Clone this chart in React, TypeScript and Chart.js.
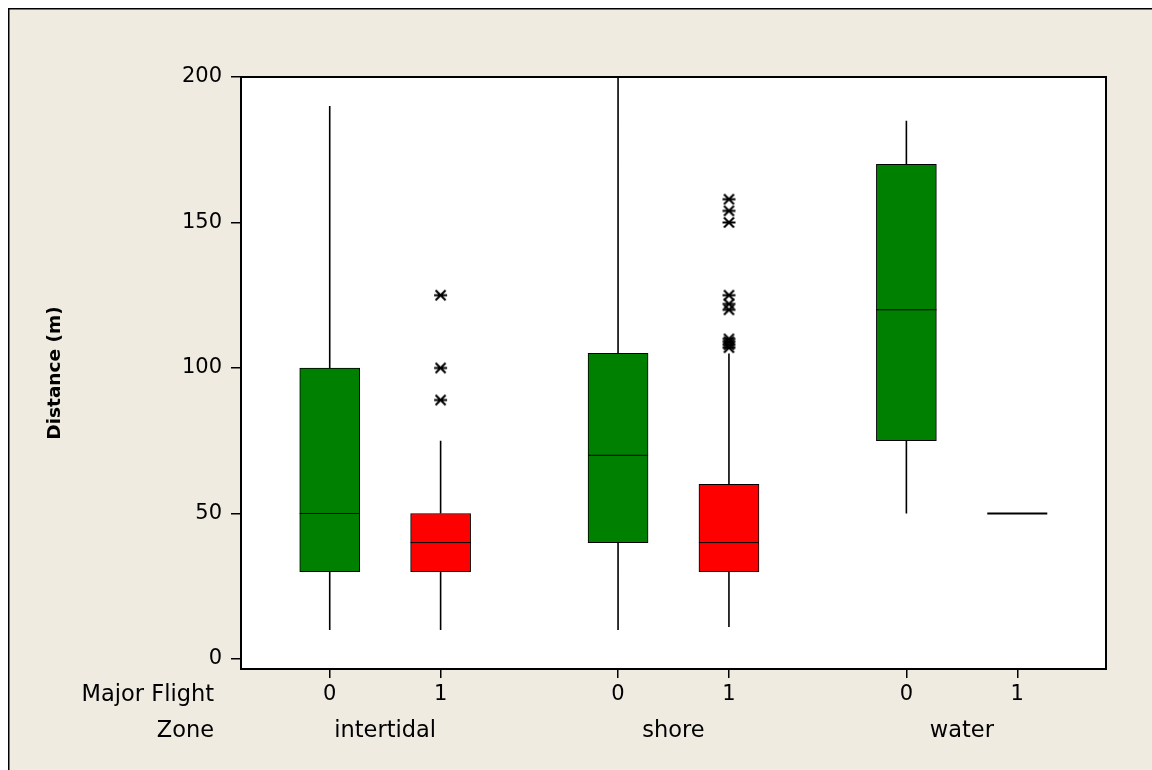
import React, { useEffect, useRef } from 'react';
import { Chart, registerables } from 'chart.js';

Chart.register(...registerables);

// ---- data ----
const zones = ['intertidal', 'shore', 'water'];
const flights = ['0', '1'];
// boxes in order: intertidal 0, intertidal 1, shore 0, shore 1, water 0, water 1
const whiskerLow = [10, 10, 10, 11, 50, 50];
const q1 = [30, 30, 40, 30, 75, 50];
const median = [50, 40, 70, 40, 120, 50];
const q3 = [100, 50, 105, 60, 170, 50];
const whiskerHigh = [190, 75, 200, 105, 185, 50];
const outliers: number[][] = [
  [],
  [125, 100, 89],
  [],
  [158, 154, 150, 125, 122, 120, 110, 109, 108, 107],
  [],
  [],
];
const yTicks = [0, 50, 100, 150, 200];
const boxColors = ['#008000', '#ff0000'];

// ---- layout / style ----
const GROUP_STEP = 2.6;
const HALF_BOX = 0.2705;
const FONT = '"DejaVu Sans", Verdana, sans-serif';
const BG = '#efebe1';
const W = 1144;
const H = 762;

const boxX = (i: number) => Math.floor(i / 2) * GROUP_STEP + (i % 2);

function makeAsterisk(): HTMLCanvasElement {
  const c = document.createElement('canvas');
  c.width = 15;
  c.height = 15;
  const g = c.getContext('2d')!;
  g.strokeStyle = '#000';
  g.lineWidth = 2;
  g.beginPath();
  g.moveTo(2.5, 2.5);
  g.lineTo(12.5, 12.5);
  g.moveTo(12.5, 2.5);
  g.lineTo(2.5, 12.5);
  g.moveTo(1, 7.5);
  g.lineTo(14, 7.5);
  g.stroke();
  return c;
}

export default function App() {
  const ref = useRef<HTMLCanvasElement>(null);

  useEffect(() => {
    const canvas = ref.current!;
    const n = median.length;
    const idx = Array.from({ length: n }, (_, i) => i);

    const barSets = flights.map((f, fi) => ({
      type: 'bar' as const,
      label: 'Flight ' + f,
      data: idx
        .filter((i) => i % 2 === fi && q3[i] > q1[i])
        .map((i) => ({ x: boxX(i), y: [q1[i], q3[i]] })),
      backgroundColor: boxColors[fi],
      borderColor: '#000',
      borderWidth: 1,
      borderSkipped: false,
      grouped: false,
      maxBarThickness: 60,
      barPercentage: 1,
      categoryPercentage: 1,
      order: 3,
    }));

    const whiskerData: any[] = [];
    idx.forEach((i) => {
      const x = boxX(i);
      whiskerData.push({ x, y: q3[i] }, { x, y: whiskerHigh[i] }, { x, y: null });
      whiskerData.push({ x, y: q1[i] }, { x, y: whiskerLow[i] }, { x, y: null });
    });

    const medianData: any[] = [];
    const flatData: any[] = [];
    idx.forEach((i) => {
      const x = boxX(i);
      const target = q3[i] > q1[i] ? medianData : flatData;
      target.push({ x: x - HALF_BOX, y: median[i] }, { x: x + HALF_BOX, y: median[i] }, { x, y: null });
    });

    const outlierData: any[] = [];
    idx.forEach((i) => outliers[i].forEach((v) => outlierData.push({ x: boxX(i), y: v })));

    const lineCommon = {
      type: 'line' as const,
      borderColor: '#000',
      pointRadius: 0,
      spanGaps: false,
      fill: false,
      order: 1,
    };

    const tickPositions = idx.map(boxX);
    const zonePositions = zones.map((_, z) => z * GROUP_STEP + 0.5);

    const bgPlugin = {
      id: 'bg',
      beforeDraw(chart: any) {
        const { ctx, chartArea: a } = chart;
        ctx.save();
        ctx.fillStyle = BG;
        ctx.fillRect(0, 0, chart.width, chart.height);
        ctx.fillStyle = '#fff';
        ctx.fillRect(a.left, a.top, a.right - a.left, a.bottom - a.top);
        ctx.strokeStyle = '#000';
        ctx.lineWidth = 1.5;
        ctx.beginPath();
        ctx.moveTo(0.75, chart.height);
        ctx.lineTo(0.75, 0.75);
        ctx.lineTo(chart.width, 0.75);
        ctx.stroke();
        ctx.restore();
      },
      afterDraw(chart: any) {
        const { ctx, chartArea: a } = chart;
        ctx.save();
        ctx.strokeStyle = '#000';
        ctx.lineWidth = 2;
        ctx.strokeRect(a.left, a.top, a.right - a.left, a.bottom - a.top);
        ctx.fillStyle = '#000';
        ctx.font = '22.5px ' + FONT;
        ctx.textAlign = 'right';
        ctx.textBaseline = 'middle';
        const xs = chart.scales.x;
        const x2 = chart.scales.x2;
        ctx.fillText('Major Flight', a.left - 27, xs.top + 26);
        ctx.fillText('Zone', a.left - 27, x2.top + 24);
        ctx.restore();
      },
    };

    const chart = new Chart(canvas, {
      type: 'bar',
      data: {
        datasets: [
          ...barSets,
          { ...lineCommon, label: 'whiskers', data: whiskerData, borderWidth: 1.6 },
          { ...lineCommon, label: 'medians', data: medianData, borderWidth: 1 },
          { ...lineCommon, label: 'flat', data: flatData, borderWidth: 2 },
          {
            type: 'scatter' as const,
            label: 'outliers',
            data: outlierData,
            pointStyle: makeAsterisk(),
            pointRadius: 6,
            order: 0,
          },
        ] as any,
      },
      options: {
        animation: false,
        responsive: false,
        devicePixelRatio: 1,
        layout: { padding: { left: 0, top: 69, right: 46, bottom: 13 } },
        plugins: { legend: { display: false }, tooltip: { enabled: false } },
        scales: {
          x: {
            type: 'linear',
            position: 'bottom',
            weight: 0,
            min: -0.8,
            max: 7.0,
            offset: false,
            afterBuildTicks: (s: any) => {
              s.ticks = tickPositions.map((v) => ({ value: v }));
            },
            afterFit: (s: any) => {
              s.height = 38;
            },
            ticks: {
              autoSkip: false,
              maxRotation: 0,
              padding: 4.4,
              color: '#000',
              font: { family: FONT, size: 21 },
              callback: (v: any) => {
                const i = tickPositions.findIndex((p) => Math.abs(p - v) < 1e-6);
                return i >= 0 ? flights[i % 2] : '';
              },
            },
            grid: { drawOnChartArea: false, offset: false, tickLength: 9, color: '#000', lineWidth: 1.5 },
            border: { display: true, color: '#000', width: 2 },
          },
          x2: {
            type: 'linear',
            axis: 'x',
            position: 'bottom',
            weight: 1,
            min: -0.8,
            max: 7.0,
            offset: false,
            afterBuildTicks: (s: any) => {
              s.ticks = zonePositions.map((v) => ({ value: v }));
            },
            afterFit: (s: any) => {
              s.height = 50;
            },
            ticks: {
              autoSkip: false,
              maxRotation: 0,
              padding: 10.5,
              color: '#000',
              font: { family: FONT, size: 22.5 },
              callback: (v: any) => {
                const i = zonePositions.findIndex((p) => Math.abs(p - v) < 1e-6);
                return i >= 0 ? zones[i] : '';
              },
            },
            grid: { display: false, drawTicks: false },
            border: { display: false },
          },
          y: {
            type: 'linear',
            min: -3.44,
            max: 200,
            afterBuildTicks: (s: any) => {
              s.ticks = yTicks.map((v) => ({ value: v }));
            },
            afterFit: (s: any) => {
              s.width = 233;
            },
            ticks: {
              padding: 9,
              color: '#000',
              font: { family: FONT, size: 21 },
            },
            grid: { drawOnChartArea: false, tickLength: 10, color: '#000', lineWidth: 1.5 },
            border: { display: true, color: '#000', width: 2 },
            title: {
              display: true,
              text: 'Distance (m)',
              color: '#000',
              font: { family: FONT, size: 18.5, weight: 'bold' },
              padding: { top: 35.9, bottom: 0 },
            },
          },
        },
      } as any,
      plugins: [bgPlugin],
    });

    return () => chart.destroy();
  }, []);

  return (
    <div style={{ position: 'fixed', left: 8, top: 8, width: W, height: H }}>
      <canvas ref={ref} width={W} height={H} style={{ display: 'block', width: W, height: H }} />
    </div>
  );
}
